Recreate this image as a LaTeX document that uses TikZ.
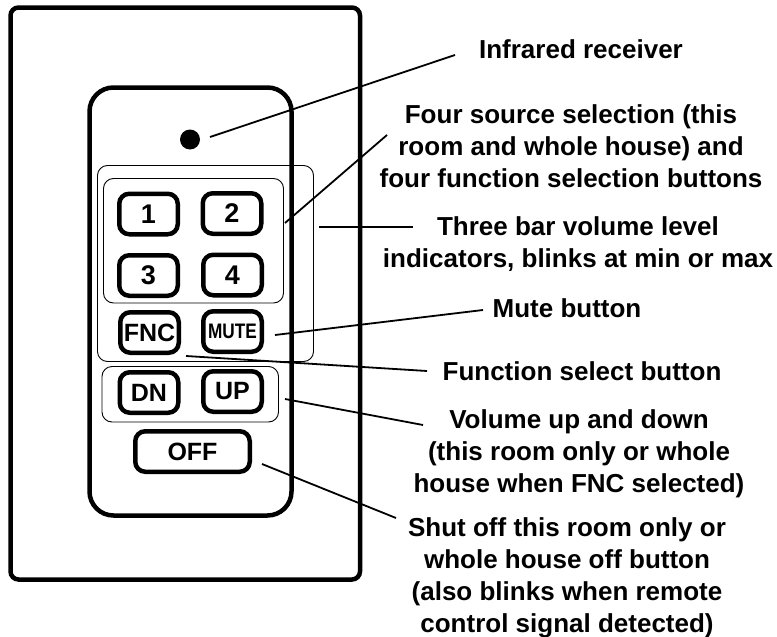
\documentclass[tikz,border=0pt]{standalone}
\usepackage{fontspec}
\usepackage{graphicx}
\setmainfont{Liberation Sans}
\begin{document}
\begin{tikzpicture}[x=1pt,y=-1pt,
  plate/.style={line width=4.5pt,rounded corners=8pt},
  remote/.style={line width=4.5pt,rounded corners=24pt},
  grp/.style={line width=0.9pt,rounded corners=10pt},
  btn/.style={draw,line width=4.5pt,rounded corners=10pt,inner sep=0pt,
    minimum width=58.5pt,minimum height=40.5pt,font=\fontsize{25}{25}\selectfont\bfseries},
  digit/.style={btn,font=\fontsize{27}{27}\selectfont\bfseries},
  lead/.style={line width=1.8pt},
  lbl/.style={inner sep=0pt,align=center,anchor=north,
    font=\fontsize{26}{32.3}\selectfont\bfseries}
]
\useasboundingbox (0,0) rectangle (777,637);
% wall plate and remote body
\draw[plate] (10.5,7.5) rectangle (360,579.5);
\draw[remote] (89.5,87.5) rectangle (291.5,515.5);
% infrared receiver
\node[circle,fill=black,inner sep=0pt,minimum size=20pt] (ir) at (190,139.5) {};
% group boxes
\draw[grp] (97.5,165.5) rectangle (313.5,361.5);
\draw[grp] (103.5,178.5) rectangle (283.5,303);
\draw[grp] (102,366.5) rectangle (278.5,422);
% buttons
\node[digit] (b1) at (148.5,214) {1};
\node[digit] (b2) at (232,213.5) {2};
\node[digit] (b3) at (148.5,275.5) {3};
\node[digit] (b4) at (232.5,275) {4};
\node[btn] (fnc) at (149.5,332.5) {FNC};
\node[btn] (mute) at (232.5,331.5) {\scalebox{0.82}[1]{\fontsize{21}{21}\selectfont MUTE}};
\node[btn] (dn) at (149,392.5) {DN};
\node[btn] (up) at (232.5,391.5) {UP};
\node[btn,minimum width=114.5pt] (off) at (192.5,451.5) {OFF};
% labels
\node[lbl] (tir) at (581,35.25) {\strut Infrared receiver};
\node[lbl] (tsrc) at (571,100.25) {\strut Four source selection (this\\room and whole house) and\\four function selection buttons};
\node[lbl] (tbar) at (578,212.25) {\strut Three bar volume level\\indicators, blinks at min or max};
\node[lbl] (tmute) at (567,294.25) {\strut Mute button};
\node[lbl] (tfnc) at (582,357.25) {\strut Function select button};
\node[lbl] (tvol) at (579,405.25) {\strut Volume up and down\\(this room only or whole\\house when FNC selected)};
\node[lbl] (toff) at (567,513.25) {\strut Shut off this room only or\\whole house off button\\(also blinks when remote\\control signal detected)};
% connector ends
\coordinate (irA) at (210,137);   \coordinate (irB) at (455,55);
\coordinate (srcA) at (285,223);  \coordinate (srcB) at (387,135);
\coordinate (barA) at (319,227);  \coordinate (barB) at (413,227);
\coordinate (muteA) at (275,335); \coordinate (muteB) at (483,310);
\coordinate (fncA) at (186,356);  \coordinate (fncB) at (427,371);
\coordinate (volA) at (285,399);  \coordinate (volB) at (423,425);
\coordinate (offA) at (262,464);  \coordinate (offB) at (396,518);
\draw[lead] (irA) -- (irB);
\draw[lead] (srcA) -- (srcB);
\draw[lead] (barA) -- (barB);
\draw[lead] (muteA) -- (muteB);
\draw[lead] (fncA) -- (fncB);
\draw[lead] (volA) -- (volB);
\draw[lead] (offA) -- (offB);
\end{tikzpicture}
\end{document}
